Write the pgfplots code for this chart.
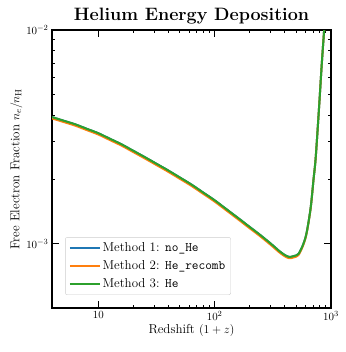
\documentclass[border=0pt]{standalone}
\usepackage{pgfplots}
\pgfplotsset{compat=1.18}
\definecolor{tabblue}{HTML}{1F77B4}
\definecolor{taborange}{HTML}{FF7F0E}
\definecolor{tabgreen}{HTML}{2CA02C}
\pgfplotstableread{
x y
3.98 3.917e-3
5.01 3.767e-3
6.31 3.622e-3
7.94 3.451e-3
10.0 3.289e-3
12.59 3.097e-3
15.85 2.917e-3
19.95 2.723e-3
25.12 2.541e-3
31.62 2.366e-3
39.81 2.203e-3
50.12 2.042e-3
63.10 1.892e-3
79.43 1.738e-3
100.0 1.596e-3
125.9 1.452e-3
158.5 1.321e-3
199.5 1.199e-3
251.2 1.089e-3
316.2 9.82e-4
354.8 9.29e-4
398.1 8.87e-4
436.5 8.67e-4
478.6 8.75e-4
524.8 8.95e-4
575.4 9.89e-4
616.6 1.122e-3
668.3 1.469e-3
707.9 2.004e-3
738.2 2.512e-3
788.9 4.305e-3
831.8 6.855e-3
871.0 9.817e-3
912.0 1.41e-2
}\dataHe
\pgfplotstableread{
x y
3.98 3.862e-3
5.01 3.714e-3
6.31 3.571e-3
7.94 3.403e-3
10.0 3.243e-3
12.59 3.054e-3
15.85 2.876e-3
19.95 2.685e-3
25.12 2.505e-3
31.62 2.333e-3
39.81 2.172e-3
50.12 2.013e-3
63.10 1.865e-3
79.43 1.714e-3
100.0 1.574e-3
125.9 1.432e-3
158.5 1.302e-3
199.5 1.182e-3
251.2 1.074e-3
316.2 9.68e-4
354.8 9.16e-4
398.1 8.75e-4
436.5 8.55e-4
478.6 8.63e-4
524.8 8.84e-4
575.4 9.80e-4
616.6 1.115e-3
668.3 1.462e-3
707.9 2.000e-3
738.2 2.510e-3
788.9 4.305e-3
831.8 6.855e-3
871.0 9.817e-3
912.0 1.41e-2
}\dataRecomb
\begin{document}
\begin{tikzpicture}
\begin{axis}[
  scale only axis,
  width=279bp, height=278bp,
  xmode=log, ymode=log,
  xmin=4, xmax=1000, ymin=5e-4, ymax=1e-2,
  xtick={10,100,1000}, xticklabels={$10$,$10^2$,$10^3$},
  ytick={1e-3,1e-2}, yticklabels={$10^{-3}$,$10^{-2}$},
  tick align=inside,
  major tick length=7pt, minor tick length=3.5pt,
  axis line style={line width=1.3pt},
  every tick/.style={black, line width=0.9pt},
  minor tick style={line width=0.6pt},
  tick label style={font=\fontsize{11}{13}\selectfont},
  title={\textbf{Helium Energy Deposition}},
  title style={font=\fontsize{18}{21}\selectfont, yshift=-4pt},
  xlabel={Redshift $(1+z)$},
  ylabel={Free Electron Fraction $n_e/n_{\mathrm{H}}$},
  label style={font=\fontsize{13}{15}\selectfont},
  xlabel style={yshift=3pt},
  ylabel style={yshift=-3pt},
  legend style={at={(0.047,0.047)}, anchor=south west, draw=black!20, rounded corners=2pt, fill=white, fill opacity=0.8, text opacity=1, font=\fontsize{13}{15}\selectfont, row sep=3.5pt, inner sep=3.5pt},
  legend cell align=left,
  legend image code/.code={\draw[#1, line width=2pt] (0cm,0cm) -- (1.05cm,0cm);},
]
\coordinate (O) at (rel axis cs:0,0);
\addplot[tabblue, line width=2pt, smooth] table {\dataHe};
\addlegendentry{Method 1: \texttt{no\_He}}
\addplot[taborange, line width=2pt, smooth] table {\dataRecomb};
\addlegendentry{Method 2: \texttt{He\_recomb}}
\addplot[tabgreen, line width=2pt, smooth] table {\dataHe};
\addlegendentry{Method 3: \texttt{He}}
\end{axis}
\pgfresetboundingbox
\path (O) ++(-52bp,-44bp) rectangle ++(346bp,352bp);
\end{tikzpicture}
\end{document}
